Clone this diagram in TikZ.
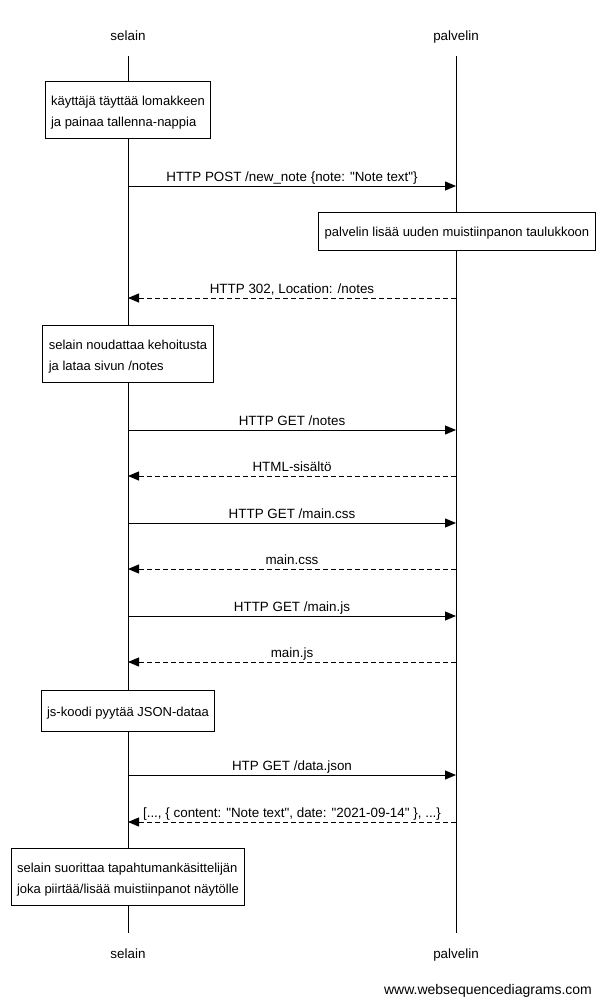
\documentclass[tikz,border=0pt]{standalone}
\usepackage{fontspec}
\setmainfont{Liberation Sans}
\newfontfamily\wsdfont{Liberation Sans}
\usepackage{tikz}
\usetikzlibrary{arrows.meta, positioning}
\newcommand{\notestrut}{\rule{0pt}{14pt}}

\begin{document}
\begin{tikzpicture}[
    x=1pt, y=-1pt,
    % 1. TEXTO BASE
    base/.style={font=\wsdfont\fontsize{13.4pt}{21pt}\selectfont},
    % 2. PARTICIPANTES (arriba y abajo)
    actor/.style={base, inner sep=0pt, text height=10pt, text depth=0pt,
        minimum height=40pt},
    % 3. NOTAS SOBRE LAS LINEAS DE VIDA (dos lineas / una linea)
    note/.style={font=\wsdfont\fontsize{13pt}{21pt}\selectfont,
        draw=black, fill=white, line width=1pt, align=left,
        inner xsep=6pt, inner ysep=9.5pt},
    noteline/.style={note, inner ysep=10pt, text height=14pt, text depth=1pt},
    % 4. MENSAJES
    msg/.style={line width=1pt, -{Triangle[length=11pt, width=9pt]}},
    reply/.style={msg, dash pattern=on 5pt off 3pt},
    msglabel/.style={base, inner sep=0pt, text height=10pt, text depth=3pt,
        above=1.5pt}
]
    \useasboundingbox (0,0) rectangle (603,1006);
    \fill[white] (0,0) rectangle (603,1006);

    % --- PARTICIPANTES ---
    \node[actor] (selainTop)   at (128, 36)  {selain};
    \node[actor] (palvelinTop) at (456, 36)  {palvelin};
    \node[actor] (selainBot)   at (128, 953) {selain};
    \node[actor] (palvelinBot) at (456, 953) {palvelin};

    % --- LINEAS DE VIDA ---
    \draw[line width=1pt] (selainTop.south) -- (selainBot.north);
    \draw[line width=1pt] (palvelinTop.south) -- (palvelinBot.north);

    % --- FILAS DE LOS MENSAJES ---
    \coordinate (r1) at (0, 186);
    \coordinate (r2) at (0, 298);
    \coordinate (r3) at (0, 430);
    \coordinate (r4) at (0, 476);
    \coordinate (r5) at (0, 523);
    \coordinate (r6) at (0, 569);
    \coordinate (r7) at (0, 616);
    \coordinate (r8) at (0, 662);
    \coordinate (r9) at (0, 775);
    \coordinate (r10) at (0, 822);

    % --- NOTAS ---
    \node[note] (lomake) at (128, 110)
        {\notestrut käyttäjä täyttää lomakkeen\\ja painaa tallenna-nappia};
    \node[noteline, text depth=4pt] (tallennus) at (457, 231)
        {palvelin lisää uuden muistiinpanon taulukkoon};
    \node[note] (uudelleen) at (128, 354)
        {\notestrut selain noudattaa kehoitusta\\ja lataa sivun /notes};
    \node[noteline, text height=16pt, text depth=5pt] (jskoodi) at (128, 710.5)
        {js-koodi pyytää JSON-dataa};
    \node[note] (render) at (128, 877)
        {\notestrut selain suorittaa tapahtumankäsittelijän\\joka piirtää/lisää muistiinpanot näytölle};

    % --- MENSAJES selain <-> palvelin ---
    \draw[msg] (selainTop |- r1) -- node[msglabel]
        {HTTP POST /new\_note \{note: "Note text"\}} (palvelinTop |- r1);
    \draw[reply] (palvelinTop |- r2) -- node[msglabel]
        {HTTP 302, Location: /notes} (selainTop |- r2);
    \draw[msg] (selainTop |- r3) -- node[msglabel] {HTTP GET /notes} (palvelinTop |- r3);
    \draw[reply] (palvelinTop |- r4) -- node[msglabel] {HTML-sisältö} (selainTop |- r4);
    \draw[msg] (selainTop |- r5) -- node[msglabel] {HTTP GET /main.css} (palvelinTop |- r5);
    \draw[reply] (palvelinTop |- r6) -- node[msglabel] {main.css} (selainTop |- r6);
    \draw[msg] (selainTop |- r7) -- node[msglabel] {HTTP GET /main.js} (palvelinTop |- r7);
    \draw[reply] (palvelinTop |- r8) -- node[msglabel] {main.js} (selainTop |- r8);
    \draw[msg] (selainTop |- r9) -- node[msglabel] {HTP GET /data.json} (palvelinTop |- r9);
    \draw[reply] (palvelinTop |- r10) -- node[msglabel]
        {[..., \{ content: "Note text", date: "2021-09-14" \}, ...\}} (selainTop |- r10);

    % --- MARCA DE AGUA ---
    \node[base, font=\wsdfont\fontsize{14pt}{17pt}\selectfont] (marca) at (488, 991)
        {www.websequencediagrams.com};

\end{tikzpicture}
\end{document}
